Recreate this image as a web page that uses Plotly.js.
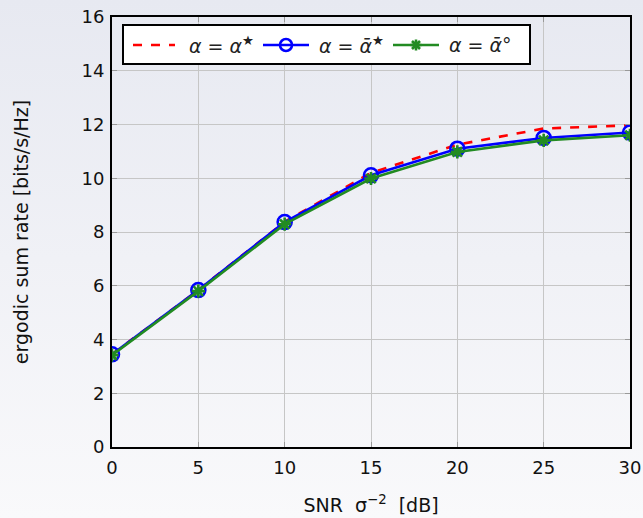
<!DOCTYPE html>
<html>
<head>
<meta charset="utf-8">
<script src="https://cdn.plot.ly/plotly-3.0.1.min.js"></script>
<style>
html,body{margin:0;padding:0;width:643px;height:518px;overflow:hidden;
background:linear-gradient(to bottom,#e7e9f1 0%,#f0f1f6 50%,#f9f9fb 100%);}
#chart{width:643px;height:518px;}
</style>
</head>
<body>
<div id="chart"></div>
<script>
const snr = [0, 5, 10, 15, 20, 25, 30];
const rateOpt = [3.45, 5.84, 8.38, 10.2, 11.25, 11.85, 11.97];
const rateBarStar = [3.45, 5.84, 8.37, 10.11, 11.1, 11.5, 11.7];
const rateBarCirc = [3.42, 5.8, 8.29, 9.99, 10.98, 11.41, 11.6];
const names = ['<i>α</i> = <i>α</i><sup>★</sup>', '<i>α</i> = <i>ᾱ</i><sup>★</sup>', '<i>α</i> = <i>ᾱ</i>°'];
const xTicks = [0, 5, 10, 15, 20, 25, 30];
const yTicks = [0, 2, 4, 6, 8, 10, 12, 14, 16];

const font = "DejaVu Sans, sans-serif";
const RED = '#ff0000', BLUE = '#0000ff', GREEN = '#228b22';
const traces = [
  {x: snr, y: rateOpt, name: names[0], mode: 'lines',
   line: {color: RED, width: 2.6, dash: 'dash'}},
  {x: snr, y: rateBarStar, name: names[1], mode: 'lines+markers',
   line: {color: BLUE, width: 2.6},
   marker: {symbol: 'circle-open', size: 14, color: BLUE, line: {width: 2.6, color: BLUE}}},
  {x: snr, y: rateBarCirc, name: names[2], mode: 'lines+markers',
   line: {color: GREEN, width: 2.6},
   marker: {symbol: 'asterisk-open', size: 11, color: GREEN, line: {width: 2.6, color: GREEN}}}
];

// Custom legend (paper coordinates)
const px = v => (v - 112) / 518;
const py = v => (447 - v) / 430;
const legY = py(45);
const shapes = [
  {type: 'rect', xref: 'paper', yref: 'paper', x0: px(123), x1: px(530), y0: py(64), y1: py(25),
   fillcolor: '#ffffff', line: {color: '#000', width: 2}, layer: 'above'},
  {type: 'line', xref: 'paper', yref: 'paper', x0: px(133), x1: px(175), y0: legY, y1: legY,
   line: {color: RED, width: 2.6, dash: 'dash'}, layer: 'above'},
  {type: 'line', xref: 'paper', yref: 'paper', x0: px(263), x1: px(309), y0: legY, y1: legY,
   line: {color: BLUE, width: 2.6}, layer: 'above'},
  {type: 'circle', xref: 'paper', yref: 'paper', xsizemode: 'pixel', ysizemode: 'pixel',
   xanchor: px(286), yanchor: legY, x0: -6, x1: 6, y0: -6, y1: 6,
   fillcolor: 'rgba(0,0,0,0)', line: {color: BLUE, width: 2.6}, layer: 'above'},
  {type: 'line', xref: 'paper', yref: 'paper', x0: px(393), x1: px(439), y0: legY, y1: legY,
   line: {color: GREEN, width: 2.6}, layer: 'above'},
  {type: 'path', xref: 'paper', yref: 'paper', xsizemode: 'pixel', ysizemode: 'pixel',
   xanchor: px(416), yanchor: legY,
   path: 'M0,-5.5L0,5.5M-5.5,0L5.5,0M-4,-4L4,4M-4,4L4,-4',
   line: {color: GREEN, width: 2.6}, layer: 'above'}
];
const textX = [187, 317, 447];
const annotations = names.map((n, i) => ({
  xref: 'paper', yref: 'paper', x: px(textX[i]), y: legY, xanchor: 'left', yanchor: 'middle',
  text: n, showarrow: false, font: {family: font, size: 19, color: '#222'}
}));

const axisCommon = {
  showline: true, linecolor: '#000', linewidth: 2, mirror: 'ticks',
  showgrid: true, gridcolor: '#c6c6c6', gridwidth: 1,
  ticks: 'inside', ticklen: 5, tickcolor: '#999', tickwidth: 1,
  zeroline: false, tickfont: {family: font, size: 18, color: '#111'}
};
const layout = {
  width: 643, height: 518,
  margin: {l: 112, r: 13, t: 17, b: 71},
  paper_bgcolor: 'rgba(0,0,0,0)', plot_bgcolor: 'rgba(0,0,0,0)',
  font: {family: font, color: '#111'},
  showlegend: false,
  shapes: shapes, annotations: annotations,
  xaxis: Object.assign({}, axisCommon, {range: [0, 30], tickvals: xTicks, ticklabelstandoff: 3,
    title: {text: 'SNR  σ<sup>−2</sup>  [dB]', font: {family: font, size: 19, color: '#111'}, standoff: 22}}),
  yaxis: Object.assign({}, axisCommon, {range: [0, 16], tickvals: yTicks, ticklabelstandoff: 2,
    title: {text: 'ergodic sum rate [bits/s/Hz]', font: {family: font, size: 19, color: '#111'}, standoff: 48}})
};
Plotly.newPlot('chart', traces, layout, {displayModeBar: false, staticPlot: true});
</script>
</body>
</html>
